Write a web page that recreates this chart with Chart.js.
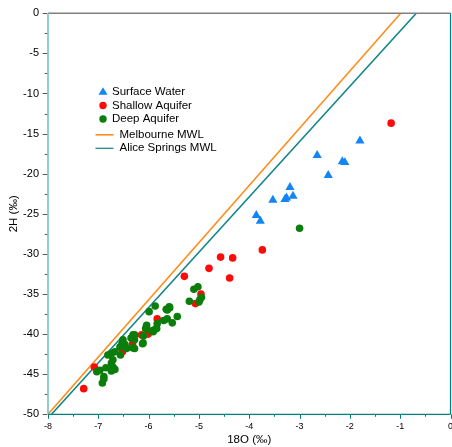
<!DOCTYPE html>
<html><head><meta charset="utf-8">
<script src="https://cdn.jsdelivr.net/npm/chart.js@4/dist/chart.umd.min.js"></script>
<style>html,body{margin:0;padding:0;background:#fff}#wrap{width:452px;height:447px;position:relative}</style>
</head><body><div id="wrap"><canvas id="c" width="452" height="447"></canvas></div>
<script>
const surfaceX = [-1.80,-2.65,-2.15,-2.10,-2.43,-3.19,-3.13,-3.29,-3.26,-3.53,-3.86,-3.78];
const surfaceY = [-15.9,-17.7,-18.5,-18.6,-20.2,-21.7,-22.8,-23.2,-23.0,-23.3,-25.2,-25.9];
const shallowX = [-1.18,-3.74,-4.33,-4.57,-4.39,-4.80,-5.29,-4.96,-5.07,-5.83,-6.01,-6.14,-6.32,-6.52,-7.08,-7.29];
const shallowY = [-13.7,-29.5,-30.5,-30.4,-33.0,-31.8,-32.8,-35.0,-36.2,-38.1,-40.0,-40.1,-41.2,-42.2,-44.1,-46.8];
const deepX = [-3.00,-5.87,-5.99,-5.10,-5.02,-5.19,-4.98,-5.00,-4.95,-5.58,-5.63,-5.43,-5.63,-5.70,-5.53,-5.83,-5.87,-5.94,-6.04,-6.06,-6.10,-6.12,-6.28,-6.35,-6.28,-6.51,-6.47,-6.53,-6.57,-6.44,-6.32,-6.28,-6.56,-6.67,-6.74,-6.81,-6.71,-6.74,-6.71,-6.67,-6.74,-6.85,-6.97,-7.03,-6.89,-6.89,-6.92,-5.59,-5.65,-5.84,-5.91,-6.31,-6.11];
const deepY = [-26.8,-36.5,-37.2,-34.4,-34.1,-35.9,-35.7,-36.0,-35.4,-36.7,-37.0,-37.8,-38.1,-38.3,-38.6,-38.7,-39.4,-39.6,-38.9,-39.3,-40.2,-41.2,-40.1,-40.5,-40.7,-40.7,-41.3,-41.2,-41.6,-41.8,-41.7,-41.8,-42.6,-42.2,-42.4,-42.6,-43.2,-43.6,-44.1,-44.4,-44.6,-44.2,-44.5,-44.7,-45.3,-45.6,-46.1,-36.6,-36.9,-39.3,-39.7,-40.1,-41.1];
const melbourneX = [-8, -0.99];
const melbourneY = [-50, 0];
const aliceX = [-7.93, -0.68];
const aliceY = [-50, 0];
const xTicks = [-8,-7,-6,-5,-4,-3,-2,-1,0];
const yTicks = [0,-5,-10,-15,-20,-25,-30,-35,-40,-45,-50];

const pts = (xs, ys) => xs.map((x, i) => ({x, y: ys[i]}));
const FONT = "'Liberation Sans', Arial, sans-serif";

const axisPlugin = {
  id: 'axisPlugin',
  afterDatasetsDraw(chart) {
    const {ctx, chartArea: a, scales: {x, y}} = chart;
    ctx.save();
    ctx.strokeStyle = '#808080'; ctx.lineWidth = 1.5;
    ctx.beginPath(); ctx.moveTo(a.left, a.top); ctx.lineTo(a.right, a.top); ctx.stroke();
    ctx.strokeStyle = '#008080'; ctx.lineWidth = 1.2;
    ctx.beginPath(); ctx.moveTo(a.right, a.top); ctx.lineTo(a.right, a.bottom); ctx.stroke();
    ctx.strokeStyle = '#7cc0c0'; ctx.lineWidth = 1.6;
    ctx.beginPath(); ctx.moveTo(a.left, a.top); ctx.lineTo(a.left, a.bottom); ctx.stroke();
    ctx.strokeStyle = '#555'; ctx.lineWidth = 1;
    for (let v = 0; v >= -50; v -= 2.5) {
      const py = Math.round(y.getPixelForValue(v)) + 0.5;
      const len = (v % 5 === 0) ? 4.5 : 2.5;
      ctx.beginPath(); ctx.moveTo(a.left - len - 0.8, py); ctx.lineTo(a.left - 0.8, py); ctx.stroke();
    }
    ctx.strokeStyle = '#008080'; ctx.lineWidth = 1.3;
    ctx.beginPath(); ctx.moveTo(a.left, a.bottom); ctx.lineTo(a.right, a.bottom); ctx.stroke();
    ctx.lineWidth = 1;
    for (let v = -8; v <= 0; v += 0.5) {
      const px = Math.round(x.getPixelForValue(v)) + 0.5;
      const len = (v % 1 === 0) ? 4.5 : 2.5;
      ctx.beginPath(); ctx.moveTo(px, a.bottom); ctx.lineTo(px, a.bottom + len); ctx.stroke();
    }
    const ds = chart.data.datasets;
    ctx.font = '11.5px ' + FONT;
    ctx.textBaseline = 'middle'; ctx.textAlign = 'left';
    const rows = [91.7, 105.5, 119, 134.8, 148.3];
    ctx.fillStyle = ds[0].backgroundColor;
    ctx.beginPath();
    ctx.moveTo(103, rows[0] - 4.5); ctx.lineTo(107.5, rows[0] + 3); ctx.lineTo(98.5, rows[0] + 3); ctx.closePath(); ctx.fill();
    ctx.fillStyle = ds[1].backgroundColor;
    ctx.beginPath(); ctx.arc(103, rows[1], 3.7, 0, Math.PI * 2); ctx.fill();
    ctx.fillStyle = ds[2].backgroundColor;
    ctx.beginPath(); ctx.arc(103, rows[2], 3.7, 0, Math.PI * 2); ctx.fill();
    ctx.lineWidth = 1.6;
    ctx.strokeStyle = ds[3].borderColor;
    ctx.beginPath(); ctx.moveTo(95.5, rows[3]); ctx.lineTo(113.5, rows[3]); ctx.stroke();
    ctx.lineWidth = 1.2;
    ctx.strokeStyle = ds[4].borderColor;
    ctx.beginPath(); ctx.moveTo(95.5, rows[4]); ctx.lineTo(113.5, rows[4]); ctx.stroke();
    ctx.fillStyle = '#000';
    ctx.fillText(ds[0].label, 112, rows[0]);
    ctx.fillText(ds[1].label, 112, rows[1]);
    ctx.fillText(ds[2].label, 112, rows[2]);
    ctx.fillText(ds[3].label, 119.5, rows[3]);
    ctx.fillText(ds[4].label, 119.5, rows[4]);
    ctx.restore();
  }
};

new Chart(document.getElementById('c'), {
  type: 'scatter',
  data: {
    datasets: [
      {label: 'Surface Water', data: pts(surfaceX, surfaceY), pointStyle: 'triangle', pointRadius: 5.3, backgroundColor: '#1485f5', borderColor: '#1485f5', borderWidth: 0, order: 3},
      {label: 'Shallow Aquifer', data: pts(shallowX, shallowY), pointStyle: 'circle', pointRadius: 3.8, backgroundColor: '#ff0a0a', borderColor: '#ff0a0a', borderWidth: 0, order: 2},
      {label: 'Deep Aquifer', data: pts(deepX, deepY), pointStyle: 'circle', pointRadius: 3.8, backgroundColor: '#0a7d0a', borderColor: '#0a7d0a', borderWidth: 0, order: 1},
      {label: 'Melbourne MWL', data: pts(melbourneX, melbourneY), showLine: true, pointRadius: 0, borderColor: '#ff8c1a', borderWidth: 1.6, order: 5},
      {label: 'Alice Springs MWL', data: pts(aliceX, aliceY), showLine: true, pointRadius: 0, borderColor: '#108585', borderWidth: 1.6, order: 4}
    ]
  },
  options: {
    responsive: false,
    animation: false,
    devicePixelRatio: 1,
    layout: {autoPadding: false, padding: {top: 13.3, right: 1.5, left: 0, bottom: 0}},
    plugins: {legend: {display: false}, tooltip: {enabled: false}},
    scales: {
      x: {
        type: 'linear', min: -8, max: 0,
        afterBuildTicks: s => { s.ticks = xTicks.map(v => ({value: v})); },
        afterFit: s => { s.height = 32.7; s.paddingLeft = 0; s.paddingRight = 0; },
        grid: {display: false, drawTicks: false},
        border: {display: false},
        ticks: {padding: 7, color: '#000', font: {size: 9, family: FONT}, maxRotation: 0, callback: v => String(v)},
        title: {display: true, text: '18O (‰)', color: '#000', font: {size: 11.5, family: FONT}, padding: {top: 0, bottom: 0}}
      },
      y: {
        type: 'linear', min: -50, max: 0,
        afterBuildTicks: s => { s.ticks = yTicks.map(v => ({value: v})); },
        afterFit: s => { s.width = 48; s.paddingTop = 0; s.paddingBottom = 0; },
        grid: {display: false, drawTicks: false},
        border: {display: false},
        ticks: {padding: 9, color: '#000', font: {size: 11, family: FONT}, callback: v => String(v)},
        title: {display: true, text: '2H (‰)', color: '#000', font: {size: 11.5, family: FONT}, padding: {top: 6.5, bottom: 0}}
      }
    }
  },
  plugins: [axisPlugin]
});
</script></body></html>
